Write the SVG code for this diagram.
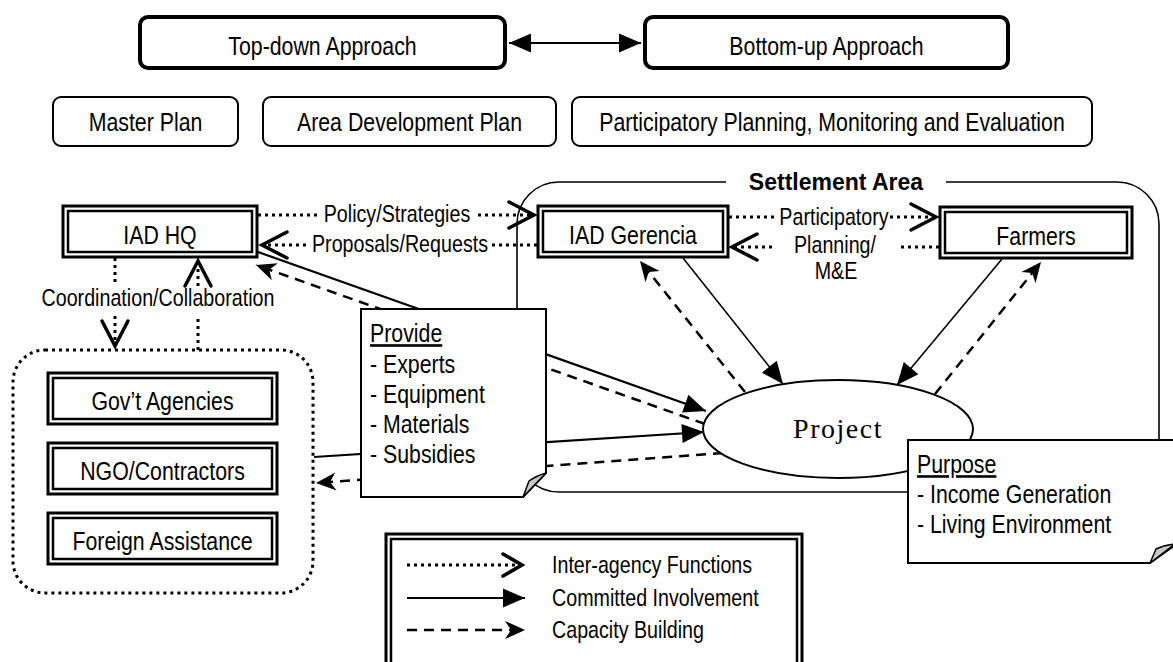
<svg xmlns="http://www.w3.org/2000/svg" width="1173" height="662" viewBox="0 0 1173 662">
<defs>
<style>
text{font-family:"Liberation Sans",Arial,sans-serif;fill:#000}
.big{font-size:26px}
.lbl{font-size:24px}
.mid{text-anchor:middle}
.title{font-weight:bold;font-size:23px}
.proj{font-family:"Liberation Serif","Times New Roman",serif;font-size:28px;letter-spacing:1.5px}
.thick{fill:#fff;stroke:#000;stroke-width:4}
.box{fill:#fff;stroke:#000;stroke-width:2}
.dblo{fill:#fff;stroke:#000;stroke-width:3}
.dbli{fill:none;stroke:#000;stroke-width:2.5}
.dot{fill:none;stroke:#000;stroke-width:3;stroke-dasharray:3 4}
.solid{fill:none;stroke:#000;stroke-width:2.2}
.thin{fill:none;stroke:#000;stroke-width:1.6}
.dash{fill:none;stroke:#000;stroke-width:2.5;stroke-dasharray:10 7}
.frame{fill:none;stroke:#000;stroke-width:1.6}
.note{fill:#fff;stroke:#000;stroke-width:2}
.fold{fill:#c8c8c8;stroke:#000;stroke-width:1.5;stroke-linejoin:round}
.u{text-decoration:underline}
</style>
<marker id="chev" markerUnits="userSpaceOnUse" markerWidth="40" markerHeight="40" refX="0" refY="0" orient="auto" overflow="visible">
<path d="M-25,-13 L0,0 L-25,13" fill="none" stroke="#000" stroke-width="3.5" stroke-linecap="round"/>
</marker>
<marker id="chevs" markerUnits="userSpaceOnUse" markerWidth="40" markerHeight="40" refX="0" refY="0" orient="auto" overflow="visible">
<path d="M-19,-11 L0,0 L-19,11" fill="none" stroke="#000" stroke-width="3.5" stroke-linecap="round"/>
</marker>
<marker id="tri" markerUnits="userSpaceOnUse" markerWidth="40" markerHeight="40" refX="0" refY="0" orient="auto-start-reverse" overflow="visible">
<path d="M0,0 L-22,-9.5 L-22,9.5 Z" fill="#000"/>
</marker>
<marker id="stl" markerUnits="userSpaceOnUse" markerWidth="40" markerHeight="40" refX="0" refY="0" orient="auto" overflow="visible">
<path d="M0,0 L-20,-9 L-14,0 L-20,9 Z" fill="#000"/>
</marker>
</defs>
<rect width="1173" height="662" fill="#fff"/>

<g id="settlement-area">
<path class="frame" d="M726,182 H559 A42,42 0 0 0 517,224 V450 A42,42 0 0 0 559,492 H1117 A42,42 0 0 0 1159,450 V224 A42,42 0 0 0 1117,182 H946"/>
<text class="title mid" x="836" y="190">Settlement Area</text>
</g>

<g id="connectors">
<line class="solid" x1="509" y1="43" x2="641" y2="43" marker-start="url(#tri)" marker-end="url(#tri)"/>
<line class="dot" x1="258" y1="215" x2="318" y2="215"/>
<line class="dot" x1="478" y1="215" x2="534" y2="215" marker-end="url(#chev)"/>
<line class="dot" x1="537" y1="245" x2="492" y2="245"/>
<line class="dot" x1="306" y1="245" x2="262" y2="245" marker-end="url(#chev)"/>
<line class="dot" x1="729" y1="217" x2="776" y2="217"/>
<line class="dot" x1="890" y1="217" x2="936" y2="217" marker-end="url(#chev)"/>
<line class="dot" x1="939" y1="247" x2="900" y2="247"/>
<line class="dot" x1="772" y1="247" x2="732" y2="247" marker-end="url(#chev)"/>
<line class="dot" x1="115" y1="258" x2="115" y2="284"/>
<line class="dot" x1="115" y1="316" x2="115" y2="346" marker-end="url(#chev)"/>
<line class="dot" x1="198" y1="350" x2="198" y2="318"/>
<line class="dot" x1="198" y1="286" x2="198" y2="261" marker-end="url(#chev)"/>
<line class="solid" x1="258" y1="252" x2="706" y2="411" marker-end="url(#tri)"/>
<line class="dash" x1="705" y1="424" x2="256" y2="265" marker-end="url(#stl)"/>
<line class="solid" x1="314" y1="457" x2="704" y2="432" marker-end="url(#tri)"/>
<line class="dash" x1="723" y1="453" x2="316" y2="483" marker-end="url(#stl)"/>
<line class="thin" x1="683" y1="258" x2="783" y2="384" marker-end="url(#tri)"/>
<line class="dash" x1="745" y1="392" x2="640" y2="261" marker-end="url(#stl)"/>
<line class="thin" x1="1002" y1="259" x2="897" y2="385" marker-end="url(#tri)"/>
<line class="dash" x1="935" y1="394" x2="1041" y2="262" marker-end="url(#stl)"/>
<text class="lbl mid" x="397" y="222" transform="matrix(0.82 0 0 1 71.46 0)">Policy/Strategies</text>
<text class="lbl mid" x="400" y="252" transform="matrix(0.82 0 0 1 72 0)">Proposals/Requests</text>
<text class="lbl mid" x="834" y="225" transform="matrix(0.82 0 0 1 150.12 0)">Participatory</text>
<text class="lbl mid" x="835" y="253" transform="matrix(0.82 0 0 1 150.3 0)">Planning/</text>
<text class="lbl mid" x="836" y="279" transform="matrix(0.82 0 0 1 150.48 0)">M&amp;E</text>
<text class="lbl mid" x="158" y="306" transform="matrix(0.82 0 0 1 28.44 0)">Coordination/Collaboration</text>
</g>

<g id="top-down">
<rect class="thick" x="140" y="17" width="365" height="51" rx="8"/>
<text class="big mid" x="322.5" y="55" transform="matrix(0.82 0 0 1 58.05 0)">Top-down Approach</text>
</g>
<g id="bottom-up">
<rect class="thick" x="645" y="17" width="363" height="51" rx="8"/>
<text class="big mid" x="826.5" y="55" transform="matrix(0.82 0 0 1 148.77 0)">Bottom-up Approach</text>
</g>
<g id="master-plan">
<rect class="box" x="53" y="97" width="185" height="49" rx="8"/>
<text class="big mid" x="145.5" y="131" transform="matrix(0.82 0 0 1 26.19 0)">Master Plan</text>
</g>
<g id="area-development-plan">
<rect class="box" x="263" y="97" width="293" height="49" rx="8"/>
<text class="big mid" x="409.5" y="131" transform="matrix(0.82 0 0 1 73.71 0)">Area Development Plan</text>
</g>
<g id="participatory-planning">
<rect class="box" x="572" y="97" width="520" height="49" rx="8"/>
<text class="big mid" x="832" y="131" transform="matrix(0.82 0 0 1 149.76 0)">Participatory Planning, Monitoring and Evaluation</text>
</g>

<g id="iad-hq">
<rect class="dblo" x="63" y="206" width="194" height="51"/>
<rect class="dbli" x="68" y="211" width="184" height="41"/>
<text class="big mid" x="160" y="244" transform="matrix(0.82 0 0 1 28.8 0)">IAD HQ</text>
</g>
<g id="iad-gerencia">
<rect class="dblo" x="538" y="206" width="190" height="51"/>
<rect class="dbli" x="543" y="211" width="180" height="41"/>
<text class="big mid" x="633" y="244" transform="matrix(0.82 0 0 1 113.94 0)">IAD Gerencia</text>
</g>
<g id="farmers">
<rect class="dblo" x="940" y="207" width="192" height="51"/>
<rect class="dbli" x="945" y="212" width="182" height="41"/>
<text class="big mid" x="1036" y="245" transform="matrix(0.82 0 0 1 186.48 0)">Farmers</text>
</g>

<g id="partners-group">
<rect x="13" y="350" width="300" height="243" rx="32" fill="none" stroke="#000" stroke-width="3" stroke-dasharray="3 4"/>
</g>
<g id="govt-agencies">
<rect class="dblo" x="48" y="373" width="229" height="51"/>
<rect class="dbli" x="53" y="378" width="219" height="41"/>
<text class="big mid" x="162.5" y="410" transform="matrix(0.82 0 0 1 29.25 0)">Gov’t Agencies</text>
</g>
<g id="ngo-contractors">
<rect class="dblo" x="48" y="443" width="229" height="51"/>
<rect class="dbli" x="53" y="448" width="219" height="41"/>
<text class="big mid" x="162.5" y="480" transform="matrix(0.82 0 0 1 29.25 0)">NGO/Contractors</text>
</g>
<g id="foreign-assistance">
<rect class="dblo" x="48" y="513" width="229" height="51"/>
<rect class="dbli" x="53" y="518" width="219" height="41"/>
<text class="big mid" x="162.5" y="550" transform="matrix(0.82 0 0 1 29.25 0)">Foreign Assistance</text>
</g>

<g id="provide-note">
<path class="note" d="M361,309 H546 V473 L523,497 H361 Z"/>
<path class="fold" d="M523,497 L529,481 Q536,476 546,473 Z"/>
<text class="big u" x="370" y="342" transform="matrix(0.82 0 0 1 66.6 0)">Provide</text>
<text class="big" x="370" y="373" transform="matrix(0.82 0 0 1 66.6 0)">- Experts</text>
<text class="big" x="370" y="403" transform="matrix(0.82 0 0 1 66.6 0)">- Equipment</text>
<text class="big" x="370" y="433" transform="matrix(0.82 0 0 1 66.6 0)">- Materials</text>
<text class="big" x="370" y="463" transform="matrix(0.82 0 0 1 66.6 0)">- Subsidies</text>
</g>

<g id="project">
<ellipse cx="838" cy="429" rx="135" ry="49" fill="#fff" stroke="#000" stroke-width="2"/>
<text class="proj mid" x="838" y="438">Project</text>
</g>

<g id="purpose-note">
<path class="note" d="M908,440 H1185 V538 L1150,563 H908 Z"/>
<path class="fold" d="M1150,563 L1156,549 Q1164,545 1175,544 Z"/>
<text class="big u" x="917" y="473" transform="matrix(0.82 0 0 1 165.06 0)">Purpose</text>
<text class="big" x="917" y="503" transform="matrix(0.82 0 0 1 165.06 0)">- Income Generation</text>
<text class="big" x="917" y="533" transform="matrix(0.82 0 0 1 165.06 0)">- Living Environment</text>
</g>

<g id="legend">
<rect class="dblo" x="386" y="534" width="416" height="140"/>
<rect class="dbli" x="391" y="539" width="406" height="130"/>
<line class="dot" x1="407" y1="565" x2="522" y2="565" marker-end="url(#chevs)"/>
<line class="solid" x1="407" y1="598" x2="525" y2="598" marker-end="url(#tri)"/>
<line class="dash" x1="407" y1="630" x2="525" y2="630" marker-end="url(#stl)"/>
<text class="lbl" x="552" y="573" transform="matrix(0.82 0 0 1 99.36 0)">Inter-agency Functions</text>
<text class="lbl" x="552" y="606" transform="matrix(0.82 0 0 1 99.36 0)">Committed Involvement</text>
<text class="lbl" x="552" y="638" transform="matrix(0.82 0 0 1 99.36 0)">Capacity Building</text>
</g>
</svg>
